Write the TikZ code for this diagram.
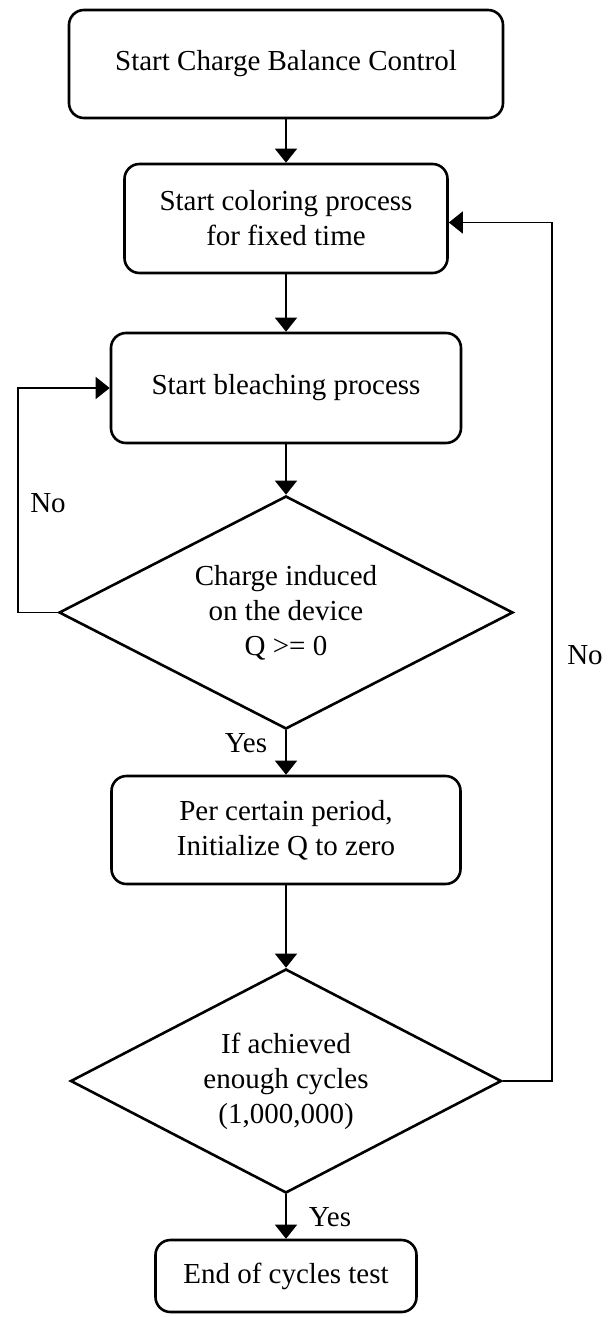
\documentclass[tikz,border=0pt]{standalone}
\usepackage{fontspec}
\setmainfont{Liberation Serif}
\usetikzlibrary{shapes.geometric,arrows.meta}

\begin{document}
\begin{tikzpicture}[x=0.5pt, y=-0.5pt,
		block/.style={draw, line width=1.3pt, rounded corners=7.5pt, align=center, inner sep=0pt,
			font=\fontsize{14.5}{17.5}\selectfont},
		decide/.style={draw, line width=1.3pt, diamond, aspect=1.95, align=center, inner sep=0pt,
			font=\fontsize{14.5}{17.5}\selectfont},
		tag/.style={font=\fontsize{14.5}{17.5}\selectfont, inner sep=0pt},
		every edge/.style={draw, line width=0.75pt},
		>={Triangle[width=11pt,length=7pt]}]
	\useasboundingbox (0,0) rectangle (614,1317);
	\node (start) at (286,64) [block, minimum width=217pt, minimum height=54pt] {Start Charge Balance Control};
	\node (color) at (286,218.5) [block, minimum width=161.5pt, minimum height=54.5pt] {Start coloring process\\for fixed time} edge [<-] (start);
	\node (bleach) at (286,388) [block, minimum width=175pt, minimum height=55pt] {Start bleaching process} edge [<-] (color);
	\node (charge) at (286,612.5) [decide, minimum width=227pt, minimum height=116.5pt] {Charge induced\\on the device\\Q >= 0} edge [<-] (bleach);
	\node (reset) at (286,830) [block, minimum width=174.5pt, minimum height=54pt] {Per certain period,\\Initialize Q to zero} edge [<-] (charge);
	\node (cycles) at (286,1081) [decide, minimum width=215.5pt, minimum height=112pt] {If achieved\\enough cycles\\(1,000,000)} edge [<-] (reset);
	\node (finish) at (286,1276) [block, minimum width=130.5pt, minimum height=36pt] {End of cycles test} edge [<-] (cycles);
	% loops back
	\coordinate (leftbus) at (18,612.5);
	\coordinate (rightbus) at (552,1081);
	\draw[->, line width=0.75pt] (charge.west) -- (leftbus) |- (bleach.west);
	\draw[->, line width=0.75pt] (cycles.east) -- (rightbus) |- ([yshift=-2pt]color.east);
	% labels
	\node (noleft) at (48,503) [tag] {No};
	\node (noright) at (585,655) [tag] {No};
	\node (yesup) at (246,743) [tag] {Yes};
	\node (yesdown) at (330,1217) [tag] {Yes};
\end{tikzpicture}
\end{document}
